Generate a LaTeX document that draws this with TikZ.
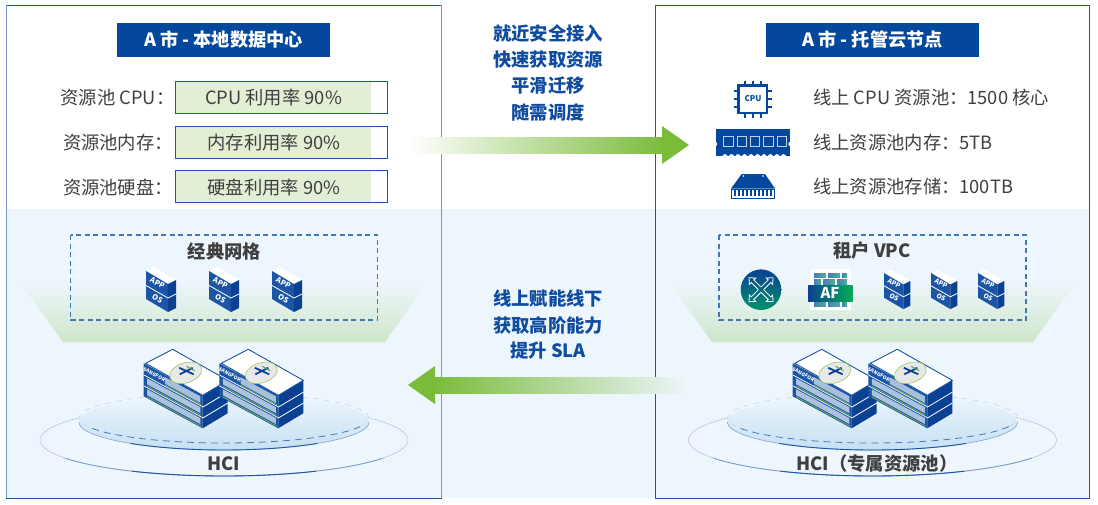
\documentclass[tikz,border=0pt]{standalone}
\usepackage{fontspec}
\setmainfont{Noto Sans CJK SC}
\usetikzlibrary{calc}
\definecolor{navy}{HTML}{03489C}
\definecolor{frameblue}{HTML}{1B55A6}
\definecolor{darkface}{HTML}{0A4193}
\definecolor{sideline}{HTML}{7099CF}
\definecolor{band}{HTML}{EEF6FD}
\definecolor{bargreen}{HTML}{E2EFD5}
\definecolor{trapgreen}{HTML}{CDE5C8}
\definecolor{arrowgreen}{HTML}{7ABB3A}
\definecolor{txt}{HTML}{3F3F3F}
\definecolor{headtxt}{HTML}{0F4C9F}
\definecolor{dashblue}{HTML}{3F78B8}
\definecolor{poolblue}{HTML}{C6E0F2}
\definecolor{brickA}{HTML}{4A7DB5}
\definecolor{brickB}{HTML}{4AB09A}
\newcommand{\fsz}[1]{\fontsize{#1}{#1}\selectfont}
% front-face and right-face coordinates of a server
\newcommand{\fp}[2]{({-29+59*(#1)},{14+32*(#1)+33*(#2)})}
\newcommand{\rp}[2]{({30+25*(#1)},{46-15*(#1)+33*(#2)})}
\tikzset{
  x=1pt,y=-1pt,
  panelbox/.style={draw=frameblue,line width=1pt,fill=none,minimum width=#1,minimum height=493pt,inner sep=0pt,outer sep=0pt},
  titlebox/.style={fill=navy,text=white,font=\fsz{18.2}\bfseries,minimum width=213pt,minimum height=34pt,inner sep=0pt},
  barbox/.style={draw=frameblue,line width=1pt,minimum width=212pt,minimum height=32pt,inner sep=0pt,outer sep=0pt},
  bodytxt/.style={text=txt,font=\fsz{18.3},inner sep=0pt},
  headtxt/.style={text=headtxt,font=\fsz{18.3}\bfseries,inner sep=0pt},
  boldtxt/.style={text=txt,font=\fsz{18.3}\bfseries,inner sep=0pt},
  vpcbox/.style={draw=dashblue,line width=1.1pt,dash pattern=on 5pt off 3.5pt},
  vm/.pic={
    \fill[white] (0,4)--(8,0)--(30,13)--(22,17)--cycle;
    \fill[frameblue] (0,4)--(22,17)--(22,45)--(0,32)--cycle;
    \fill[darkface] (22,17)--(30,13)--(30,41)--(22,45)--cycle;
    \draw[white,line width=.8pt] (0,18.5)--(22,31)--(30,27);
    \node (-app) [text=white,font=\fsz{7.5}\bfseries,rotate=-28,transform shape,inner sep=0pt] at (11.5,16) {APP};
    \node (-os) [text=white,font=\fsz{7.5}\bfseries,rotate=-28,transform shape,inner sep=0pt] at (11.5,31.5) {OS};
  },
  server/.pic={
    % front face
    \fill[frameblue] \fp{0}{0} -- \fp{1}{0} -- \fp{1}{1} -- \fp{0}{1} -- cycle;
    % right face
    \fill[darkface] \rp{0}{0} -- \rp{1}{0} -- \rp{1}{1} -- \rp{0}{1} -- cycle;
    \draw[white,line width=.8pt] \rp{0}{.36} -- \rp{1}{.36};
    \draw[white,line width=.8pt] \rp{0}{.69} -- \rp{1}{.69};
    % unit panels on the front
    \fill[white!62!frameblue] \fp{.36}{.07} -- \fp{.96}{.07} -- \fp{.96}{.27} -- \fp{.36}{.27} -- cycle;
    \draw[arrowgreen,line width=.7pt] \fp{.36}{.31} -- \fp{.97}{.31};
    \foreach \t in {.40,.73}{
      \fill[white!64!frameblue] \fp{.06}{\t} -- \fp{.96}{\t} -- \fp{.96}{\t+.18} -- \fp{.06}{\t+.18} -- cycle;
      \draw[arrowgreen,line width=.7pt] \fp{.06}{\t+.23} -- \fp{.97}{\t+.23};
      \draw[white,line width=.7pt] \fp{0}{\t-.05} -- \fp{1}{\t-.05};
    }
    \node (-brand) [text=white,font=\fsz{5}\bfseries,rotate=-28.5,transform shape,inner sep=0pt] at \fp{.18}{.16} {SANGFOR};
    % top face
    \filldraw[fill=white,draw=frameblue,line width=.9pt] (0,0) -- (-27,14) -- (30,46) -- (55,31) -- cycle;
    % cloud logo
    \filldraw[fill=black!9,draw=arrowgreen!80,line width=.6pt,rotate around={18:(13,23.5)}] (13,23.5) ellipse [x radius=16.5,y radius=10];
    \draw[darkface,line width=1.8pt] (6.5,18.5) -- (21,25) (7,25) -- (20,18.5);
    \draw[arrowgreen!70!teal,line width=1pt] (14,17) -- (22,21.5);
  },
}
\begin{document}
\begin{tikzpicture}
\useasboundingbox (0,0) rectangle (1098,504);
\fill[white] (0,0) rectangle (1098,504);
% pale band
\fill[band] (7,209) rectangle (1090,498);
% green trapezoids
\shade[top color=band,bottom color=trapgreen,middle color=band!55!trapgreen] (18,280) -- (429,280) -- (385,342) -- (63,342) -- cycle;
\shade[top color=band,bottom color=trapgreen,middle color=band!55!trapgreen] (667,280) -- (1078,280) -- (1033,342) -- (712,342) -- cycle;
% panels
\node (panelA) [panelbox=435pt] at (223.7,251.5) {};
\node (panelB) [panelbox=434pt] at (872,251.5) {};
\draw[sideline,line width=1.4pt] (panelA.north west) -- (panelA.south west) (panelA.north east) -- (panelA.south east);
% titles
\node (titleA) [titlebox] at (223.5,40) {A 市 - 本地数据中心};
\node (titleB) [titlebox] at (872.5,40) {A 市 - 托管云节点};
% utilisation bars
\fill[bargreen] (176,81) rectangle (371,113);
\fill[bargreen] (176,126) rectangle (371,158);
\fill[bargreen] (176,170) rectangle (371,202);
\node (barCpu) [barbox] at (281.7,97) {};
\node (barMem) [barbox] at (281.7,142) {};
\node (barDisk) [barbox] at (281.7,186) {};
\node (barCpuT) [bodytxt] at (273.5,98) {CPU 利用率 90\%};
\node (barMemT) [bodytxt] at (274,143) {内存利用率 90\%};
\node (barDiskT) [bodytxt] at (274,187) {硬盘利用率 90\%};
\node (lblCpu) [bodytxt,anchor=east] at (174.5,98) {资源池 CPU：};
\node (lblMem) [bodytxt,anchor=east] at (173,143) {资源池内存：};
\node (lblDisk) [bodytxt,anchor=east] at (173,187) {资源池硬盘：};
% right labels
\node (rCpu) [bodytxt,anchor=west] at (813,98) {线上 CPU 资源池：1500 核心};
\node (rMem) [bodytxt,anchor=west] at (813,143) {线上资源池内存：5TB};
\node (rDisk) [bodytxt,anchor=west] at (813,187) {线上资源池存储：100TB};
% middle captions
\node (m1) [headtxt] at (548,34) {就近安全接入};
\node (m2) [headtxt] at (548,60) {快速获取资源};
\node (m3) [headtxt] at (548,86) {平滑迁移};
\node (m4) [headtxt] at (548,112) {随需调度};
\node (m5) [headtxt] at (548,299) {线上赋能线下};
\node (m6) [headtxt] at (548,325) {获取高阶能力};
\node (m7) [headtxt] at (548,351) {提升 SLA};
% arrows
\shade[left color=white,right color=arrowgreen] (410,137) rectangle (665,153);
\fill[arrowgreen] (662,126) -- (689,145) -- (662,164) -- cycle;
\shade[left color=arrowgreen,right color=band] (432,377) rectangle (690,393);
\fill[arrowgreen] (435,366) -- (408,385) -- (435,404) -- cycle;
% CPU icon
\foreach \p in {745,753,761}{
  \draw[navy,line width=2pt] (\p,80.5) -- (\p,117.5);
}
\foreach \q in {91,99,107}{
  \draw[navy,line width=2pt] (734,\q) -- (771.5,\q);
}
\filldraw[fill=white,draw=navy,line width=2.4pt] (738.5,85.5) rectangle (767,113);
\node (cpuChip) [text=navy,font=\fsz{8}\bfseries,inner sep=0pt] at (753,99) {CPU};
% RAM icon
\fill[navy] (715.5,129) rectangle (790,156);
\foreach \p in {723.5,737,750.3,763.6,777}{
  \draw[white!75!navy,line width=.9pt] (\p,136.3) rectangle ++(9.5,10.5);
}
\foreach \p in {725,731.5,738,744.5,751,757.5,764,770.5,777,783.5}{
  \fill[white] (\p,156.8) circle [radius=2.7];
}
\fill[white] (715,144) circle [radius=2.2] (790.5,144) circle [radius=2.2];
% storage icon
\fill[navy] (741.7,174) -- (765,174) -- (775,188.5) -- (731,188.5) -- cycle;
\fill[white] (743.5,176) circle [radius=.9] (763,176) circle [radius=.9];
\draw[navy,line width=1pt] (731.5,189) rectangle (774.5,198.5);
\foreach \p in {735,739,743,747,751,755,759,763,767,771}{
  \draw[navy,line width=1.5pt] (\p,190) -- (\p,196);
}
% VPC boxes
\draw[vpcbox] (70.5,235) rectangle (377.5,320);
\draw[vpcbox] (719,235) rectangle (1026,320);
\node (vpcA) [boldtxt] at (224.5,251) {经典网格};
\node (vpcB) [boldtxt] at (872,251) {租户 VPC};
% VMs
\pic (a1) at (146,267) {vm};
\pic (a2) at (209,267) {vm};
\pic (a3) at (272,267) {vm};
\pic[scale=.88] (b1) at (884,269.5) {vm};
\pic[scale=.88] (b2) at (931,269.5) {vm};
\pic[scale=.88] (b3) at (978,269.5) {vm};
% switch icon
\shade[top color=darkface,bottom color=teal!85!green] (761,289.7) circle [radius=20.3];
\foreach \a in {45,135,225,315}{
  \begin{scope}[shift={(761,289.7)},rotate=\a]
    \draw[white,line width=.8pt] (2,-1.8) -- (12,-1.8) -- (12,-4.5) -- (17,0) -- (12,4.5) -- (12,1.8) -- (2,1.8);
  \end{scope}
}
% AF icon
\fill[white] (810,269) rectangle (851,310);
\foreach \yy/\xa/\xb in {273.3/814/826,273.3/828/840,273.3/842/847,
                          279.5/814/821,279.5/823/835,279.5/837/847,
                          302/814/826,302/828/840,302/842/847}{
  \shade[left color=brickA,right color=brickB] (\xa,\yy) rectangle (\xb,\yy+4.5);
}
\shade[left color=darkface,right color=teal!65!green] (808,285) rectangle (852.5,301);
\node (afLabel) [text=white,font=\fsz{15}\bfseries,inner sep=0pt] at (830,293) {AF};
% HCI platforms
\foreach \cx in {224,872.5}{
  \begin{scope}[shift={(\cx,0)}]
    \draw[frameblue!30,line width=.7pt] plot[domain=0:360,samples=120] ({184*cos(\x)},{440+36*sin(\x)});
    \draw[frameblue!60,line width=.8pt] plot[domain=30:150,samples=60] ({184*cos(\x)},{440+36*sin(\x)});
    \draw[frameblue,line width=.9pt] plot[domain=60:120,samples=40] ({184*cos(\x)},{440+36*sin(\x)});
    \shade[top color=band,bottom color=poolblue] (-145,422) arc [start angle=180,end angle=-180,radius=145,y radius=28];
    \draw[frameblue!50,line width=.7pt] plot[domain=0:180,samples=80] ({145*cos(\x)},{422+28*sin(\x)});
    \draw[frameblue,line width=.9pt] plot[domain=50:130,samples=50] ({145*cos(\x)},{422+28*sin(\x)});
    \draw[frameblue!22,line width=.7pt,dash pattern=on 6pt off 5pt] plot[domain=160:380,samples=100] ({145*cos(\x)},{418+25*sin(\x)});
    \draw[frameblue!80,line width=.8pt,dash pattern=on 7pt off 5pt] plot[domain=20:160,samples=80] ({145*cos(\x)},{418+25*sin(\x)});
  \end{scope}
}
\pic (srvA1) at (172.7,349.3) {server};
\pic (srvA2) at (248.3,349.3) {server};
\pic (srvB1) at (821.7,349.3) {server};
\pic (srvB2) at (897.3,349.3) {server};
\node (hciA) [boldtxt] at (223.5,463.5) {HCI};
\node (hciB) [boldtxt] at (877,463.5) {HCI（专属资源池）};
\end{tikzpicture}
\end{document}
